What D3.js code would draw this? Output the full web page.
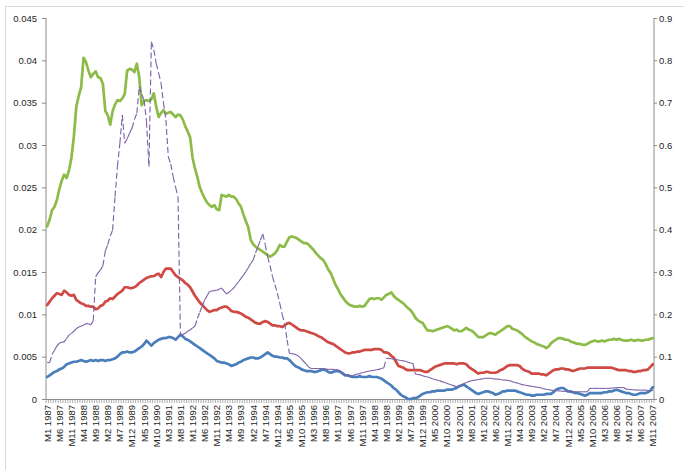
<!DOCTYPE html>
<html><head><meta charset="utf-8">
<script src="https://cdn.jsdelivr.net/npm/d3@7/dist/d3.min.js"></script>
<style>
html,body{margin:0;padding:0;background:#fff;}
svg{display:block;font-family:"Liberation Sans",Arial,sans-serif;}
</style></head>
<body><svg id="c" width="684" height="470"></svg>
<script>
// Months M1 1987 .. M11 2007 (251 monthly categories)
const startYear = 1987, monthCount = 251;
const categories = d3.range(monthCount).map(i => `M${i % 12 + 1} ${startYear + Math.floor(i / 12)}`);
const tickEvery = 5;
const leftTicks = [0, 0.005, 0.01, 0.015, 0.02, 0.025, 0.03, 0.035, 0.04, 0.045];
const rightTicks = [0, 0.1, 0.2, 0.3, 0.4, 0.5, 0.6, 0.7, 0.8, 0.9];

const green = [
0.0204,0.0212,0.0223,0.0227,0.0235,0.0248,0.0258,0.0265,0.0261,0.0270,0.0285,0.0310,
0.0345,0.0358,0.0368,0.0403,0.0398,0.0388,0.0380,0.0384,0.0387,0.0380,0.0379,0.0372,
0.0340,0.0335,0.0324,0.0340,0.0348,0.0353,0.0352,0.0355,0.0360,0.0388,0.0390,0.0389,
0.0386,0.0396,0.0380,0.0347,0.0352,0.0353,0.0352,0.0354,0.0361,0.0345,0.0333,0.0338,
0.0341,0.0337,0.0338,0.0339,0.0336,0.0333,0.0336,0.0335,0.0330,0.0322,0.0316,0.0309,
0.0285,0.0272,0.0262,0.0250,0.0243,0.0237,0.0232,0.0229,0.0227,0.0229,0.0224,0.0223,
0.0241,0.0240,0.0239,0.0241,0.0239,0.0239,0.0236,0.0231,0.0227,0.0218,0.0210,0.0203,
0.0188,0.0183,0.0180,0.0178,0.0176,0.0174,0.0172,0.0170,0.0168,0.0170,0.0172,0.0176,
0.0182,0.0180,0.0180,0.0186,0.0191,0.0192,0.0191,0.0190,0.0188,0.0186,0.0184,0.0184,
0.0182,0.0179,0.0176,0.0172,0.0169,0.0166,0.0164,0.0159,0.0153,0.0149,0.0142,0.0135,
0.0130,0.0124,0.0120,0.0116,0.0113,0.0111,0.0110,0.0109,0.0109,0.0110,0.0109,0.0110,
0.0114,0.0118,0.0119,0.0118,0.0119,0.0119,0.0117,0.0120,0.0123,0.0124,0.0126,0.0122,
0.0119,0.0117,0.0115,0.0113,0.0110,0.0107,0.0105,0.0101,0.0096,0.0093,0.0091,0.0090,
0.0085,0.0081,0.0081,0.0080,0.0081,0.0082,0.0083,0.0084,0.0085,0.0086,0.0085,0.0083,
0.0081,0.0082,0.0080,0.0080,0.0082,0.0084,0.0082,0.0081,0.0079,0.0076,0.0073,0.0073,
0.0073,0.0075,0.0077,0.0078,0.0077,0.0076,0.0078,0.0080,0.0082,0.0084,0.0086,0.0086,
0.0083,0.0082,0.0081,0.0079,0.0077,0.0074,0.0072,0.0070,0.0068,0.0067,0.0065,0.0064,
0.0063,0.0062,0.0060,0.0062,0.0066,0.0068,0.0070,0.0072,0.0072,0.0071,0.0070,0.0070,
0.0068,0.0067,0.0066,0.0065,0.0065,0.0064,0.0064,0.0065,0.0067,0.0068,0.0069,0.0068,
0.0068,0.0069,0.0068,0.0069,0.0070,0.0070,0.0071,0.0070,0.0071,0.0070,0.0069,0.0069,
0.0069,0.0070,0.0069,0.0069,0.0070,0.0069,0.0069,0.0070,0.0070,0.0071,0.0072
];
const red = [
0.0111,0.0115,0.0119,0.0122,0.0125,0.0124,0.0123,0.0128,0.0126,0.0123,0.0122,0.0123,
0.0117,0.0115,0.0113,0.0112,0.0110,0.0110,0.0109,0.0109,0.0106,0.0107,0.0110,0.0111,
0.0115,0.0116,0.0119,0.0118,0.0121,0.0124,0.0126,0.0128,0.0132,0.0132,0.0131,0.0131,
0.0132,0.0134,0.0137,0.0139,0.0141,0.0143,0.0144,0.0145,0.0145,0.0147,0.0148,0.0144,
0.0150,0.0154,0.0154,0.0154,0.0150,0.0146,0.0144,0.0142,0.0140,0.0137,0.0135,0.0132,
0.0127,0.0122,0.0118,0.0114,0.0111,0.0108,0.0105,0.0103,0.0104,0.0105,0.0105,0.0107,
0.0108,0.0109,0.0109,0.0107,0.0104,0.0103,0.0103,0.0102,0.0101,0.0099,0.0097,0.0096,
0.0094,0.0092,0.0090,0.0089,0.0089,0.0091,0.0092,0.0091,0.0089,0.0087,0.0087,0.0086,
0.0086,0.0085,0.0087,0.0089,0.0090,0.0088,0.0086,0.0084,0.0082,0.0081,0.0081,0.0080,
0.0079,0.0078,0.0077,0.0076,0.0074,0.0073,0.0071,0.0069,0.0067,0.0066,0.0065,0.0063,
0.0061,0.0059,0.0057,0.0055,0.0054,0.0054,0.0055,0.0055,0.0056,0.0056,0.0057,0.0058,
0.0058,0.0058,0.0058,0.0059,0.0059,0.0059,0.0058,0.0055,0.0055,0.0054,0.0051,0.0049,
0.0044,0.0039,0.0038,0.0037,0.0035,0.0034,0.0034,0.0034,0.0034,0.0034,0.0034,0.0033,
0.0032,0.0032,0.0034,0.0036,0.0038,0.0039,0.0040,0.0041,0.0042,0.0042,0.0042,0.0042,
0.0042,0.0041,0.0042,0.0042,0.0042,0.0041,0.0038,0.0036,0.0034,0.0032,0.0030,0.0031,
0.0031,0.0032,0.0032,0.0031,0.0031,0.0031,0.0032,0.0034,0.0035,0.0037,0.0039,0.0040,
0.0040,0.0040,0.0040,0.0039,0.0036,0.0034,0.0033,0.0032,0.0030,0.0030,0.0030,0.0030,
0.0029,0.0029,0.0028,0.0030,0.0032,0.0034,0.0035,0.0035,0.0036,0.0036,0.0035,0.0035,
0.0034,0.0033,0.0034,0.0035,0.0036,0.0036,0.0036,0.0037,0.0037,0.0037,0.0037,0.0037,
0.0037,0.0037,0.0037,0.0037,0.0037,0.0037,0.0036,0.0035,0.0034,0.0034,0.0034,0.0034,
0.0033,0.0033,0.0032,0.0032,0.0033,0.0033,0.0034,0.0034,0.0035,0.0038,0.0041
];
const blue = [
0.0026,0.0028,0.0030,0.0032,0.0033,0.0035,0.0036,0.0038,0.0041,0.0042,0.0043,0.0044,
0.0044,0.0045,0.0046,0.0045,0.0044,0.0045,0.0046,0.0045,0.0046,0.0045,0.0046,0.0046,
0.0045,0.0046,0.0046,0.0047,0.0048,0.0050,0.0053,0.0055,0.0055,0.0056,0.0055,0.0055,
0.0056,0.0058,0.0060,0.0062,0.0065,0.0069,0.0066,0.0063,0.0066,0.0068,0.0070,0.0071,
0.0072,0.0072,0.0073,0.0073,0.0072,0.0070,0.0073,0.0076,0.0074,0.0071,0.0070,0.0068,
0.0066,0.0064,0.0062,0.0060,0.0058,0.0056,0.0054,0.0052,0.0050,0.0048,0.0045,0.0044,
0.0043,0.0043,0.0042,0.0041,0.0039,0.0040,0.0041,0.0043,0.0044,0.0046,0.0047,0.0048,
0.0049,0.0049,0.0048,0.0048,0.0049,0.0051,0.0053,0.0055,0.0053,0.0051,0.0050,0.0050,
0.0049,0.0049,0.0048,0.0048,0.0046,0.0043,0.0040,0.0038,0.0037,0.0035,0.0034,0.0033,
0.0033,0.0033,0.0032,0.0032,0.0033,0.0034,0.0035,0.0034,0.0032,0.0031,0.0032,0.0033,
0.0033,0.0032,0.0030,0.0028,0.0028,0.0027,0.0026,0.0026,0.0026,0.0027,0.0026,0.0026,
0.0026,0.0027,0.0026,0.0026,0.0026,0.0025,0.0024,0.0022,0.0020,0.0018,0.0016,0.0013,
0.0011,0.0008,0.0005,0.0003,0.0002,0.0000,0.0000,0.0001,0.0001,0.0002,0.0004,0.0006,
0.0007,0.0008,0.0008,0.0009,0.0009,0.0010,0.0010,0.0010,0.0010,0.0011,0.0011,0.0011,
0.0012,0.0013,0.0015,0.0016,0.0017,0.0015,0.0013,0.0011,0.0009,0.0007,0.0006,0.0007,
0.0008,0.0009,0.0009,0.0008,0.0007,0.0005,0.0006,0.0007,0.0009,0.0009,0.0010,0.0010,
0.0010,0.0010,0.0009,0.0008,0.0007,0.0006,0.0005,0.0005,0.0004,0.0004,0.0005,0.0005,
0.0005,0.0005,0.0006,0.0006,0.0006,0.0008,0.0011,0.0012,0.0013,0.0013,0.0011,0.0009,
0.0009,0.0008,0.0007,0.0007,0.0006,0.0005,0.0004,0.0005,0.0007,0.0007,0.0007,0.0007,
0.0007,0.0007,0.0008,0.0008,0.0009,0.0009,0.0010,0.0011,0.0010,0.0009,0.0008,0.0007,
0.0007,0.0006,0.0005,0.0005,0.0006,0.0007,0.0007,0.0007,0.0008,0.0010,0.0014
];
// secondary (right) axis series
const purple = [
0.086,0.086,0.105,0.115,0.125,0.132,0.134,0.135,0.143,0.151,0.155,0.160,
0.166,0.170,0.172,0.175,0.178,0.178,0.175,0.185,0.289,0.298,0.305,0.315,
0.350,0.365,0.385,0.399,0.478,0.550,0.604,0.671,0.604,0.615,0.628,0.640,
0.660,0.675,0.738,0.720,0.706,0.655,0.549,0.844,0.825,0.793,0.770,0.746,
0.700,0.659,0.572,0.555,0.525,0.500,0.478,0.151,0.153,0.155,0.160,0.163,
0.168,0.172,0.190,0.205,0.220,0.234,0.244,0.254,0.255,0.256,0.257,0.259,
0.262,0.255,0.248,0.252,0.257,0.262,0.270,0.277,0.285,0.293,0.301,0.310,
0.320,0.328,0.345,0.360,0.375,0.390,0.365,0.336,0.315,0.289,0.270,0.250,
0.226,0.200,0.179,0.140,0.108,0.107,0.106,0.104,0.100,0.094,0.088,0.082,
0.075,0.072,0.072,0.072,0.072,0.072,0.071,0.071,0.070,0.070,0.070,0.069,
0.069,0.066,0.062,0.058,0.055,0.054,0.055,0.057,0.059,0.060,0.062,0.063,
0.065,0.066,0.067,0.068,0.069,0.070,0.072,0.074,0.096,0.096,0.095,0.094,
0.093,0.092,0.091,0.090,0.089,0.087,0.085,0.084,0.059,0.058,0.057,0.055,
0.053,0.052,0.050,0.048,0.046,0.045,0.043,0.041,0.039,0.037,0.035,0.033,
0.031,0.029,0.031,0.033,0.036,0.039,0.041,0.043,0.044,0.045,0.046,0.047,
0.048,0.049,0.049,0.049,0.048,0.047,0.047,0.046,0.045,0.045,0.044,0.043,
0.041,0.039,0.038,0.036,0.034,0.033,0.032,0.031,0.030,0.029,0.028,0.027,
0.026,0.024,0.023,0.022,0.021,0.020,0.020,0.019,0.019,0.018,0.018,0.017,
0.017,0.017,0.017,0.017,0.017,0.017,0.017,0.017,0.025,0.025,0.025,0.025,
0.025,0.025,0.025,0.025,0.025,0.026,0.026,0.027,0.027,0.027,0.027,0.023,
0.023,0.022,0.022,0.021,0.021,0.021,0.021,0.021,0.020,0.020,0.020
];

const svg = d3.select("#c");
const L = 46, R = 654, T = 18, B = 399;
const axisColor = "#8c8c8c", textColor = "#262626";

// chart border
svg.append("rect").attr("x", 5.5).attr("y", 6.5).attr("width", 700).attr("height", 500)
  .attr("fill", "none").attr("stroke", "#d9d9d9");

const x = d3.scalePoint().domain(categories).range([L, R]).padding(0.5);
const step = x.step();
const yL = d3.scaleLinear().domain([0, 0.045]).range([B, T]);
const yR = d3.scaleLinear().domain([0, 0.9]).range([B, T]);

// left axis
const gl = svg.append("g").attr("transform", `translate(${L},0)`)
  .call(d3.axisLeft(yL).tickValues(leftTicks).tickSize(4).tickPadding(5).tickFormat(d => d === 0 ? "0" : String(+d.toFixed(3))));
// right axis
const gr = svg.append("g").attr("transform", `translate(${R},0)`)
  .call(d3.axisRight(yR).tickValues(rightTicks).tickSize(3).tickPadding(2).tickFormat(d => d === 0 ? "0" : String(+d.toFixed(1))));
[gl, gr].forEach(g => {
  g.select(".domain").attr("stroke", axisColor).attr("d", `M0,${T}V${B}`);
  g.selectAll(".tick line").attr("stroke", axisColor);
  g.selectAll("text").attr("fill", textColor).style("font-size", "9.5px").style("font-family", "'Liberation Sans',Arial,sans-serif");
});

// bottom axis: ticks at category boundaries
const bx = svg.append("g");
bx.append("line").attr("x1", L).attr("x2", R).attr("y1", B + 0.5).attr("y2", B + 0.5).attr("stroke", axisColor);
bx.selectAll("line.mt").data(d3.range(monthCount + 1)).join("line").attr("class", "mt")
  .attr("x1", i => L + i * step).attr("x2", i => L + i * step)
  .attr("y1", B).attr("y2", B + 4).attr("stroke", axisColor).attr("stroke-width", 0.7);
const tickCats = categories.filter((c, i) => i % tickEvery === 0);
bx.selectAll("text").data(tickCats).join("text")
  .attr("transform", c => `translate(${x(c) + 3.5},${B + 6}) rotate(-90)`)
  .attr("text-anchor", "end").attr("fill", textColor)
  .style("font-size", "9.5px").text(c => c);

// series
const lineL = d3.line().x((d, i) => x(categories[i])).y(d => yL(d)).curve(d3.curveLinear);
const seriesDefs = [
  { data: blue, color: "#4a7ebb" },
  { data: red, color: "#d04a45" },
  { data: green, color: "#8cbb48" }
];
svg.append("g").selectAll("path").data(seriesDefs).join("path")
  .attr("d", s => lineL(s.data)).attr("fill", "none").attr("stroke", s => s.color)
  .attr("stroke-width", 2.7).attr("stroke-linejoin", "round").attr("stroke-linecap", "round");

// purple secondary series: dashed, pattern restarting on every segment
const segs = d3.pairs(purple.map((v, i) => [x(categories[i]), yR(v)]));
svg.append("g").selectAll("line").data(segs).join("line")
  .attr("x1", s => s[0][0]).attr("y1", s => s[0][1])
  .attr("x2", s => s[1][0]).attr("y2", s => s[1][1])
  .attr("stroke", "#7a5ea6").attr("stroke-width", 1.1)
  .attr("stroke-dasharray", "6,3");
</script></body></html>
